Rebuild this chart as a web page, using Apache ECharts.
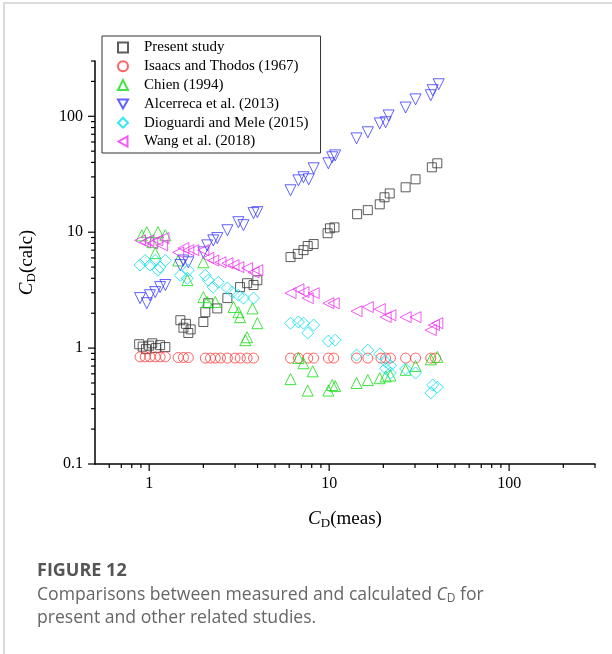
<!DOCTYPE html>
<html>
<head>
<meta charset="utf-8">
<script src="https://cdn.jsdelivr.net/npm/echarts@6/dist/echarts.min.js"></script>
<style>
html, body { margin: 0; padding: 0; background: #fff; }
#main { width: 612px; height: 654px; }
</style>
</head>
<body>
<div id="main"></div>
<script>
// series data, [CD(meas), CD(calc)]
var presentStudy = [
	[0.88, 1.08], [0.96, 0.98], [1.04, 1.1], [1.09, 1.0], [1.15, 1.06], [1.23, 1.02], [0.92, 1.03], [1.0, 1.05],
	[1.49, 1.74], [1.6, 1.62], [1.7, 1.45], [1.65, 1.35], [1.55, 1.5],
	[2.0, 1.68], [2.05, 2.04], [2.13, 2.44], [2.39, 2.2], [2.72, 2.7], [3.2, 3.36], [3.5, 3.63], [3.8, 3.5], [3.99, 3.85],
	[6.1, 6.1], [6.7, 6.5], [7.2, 7.0], [7.6, 7.6], [8.2, 7.9], [9.8, 9.8], [10.1, 10.8], [10.7, 11.0],
	[14.3, 14.3], [16.4, 15.5], [19.1, 17.4], [20.3, 20.0], [21.7, 21.6], [26.6, 24.4], [30.2, 28.6], [37.2, 36.3], [39.9, 39.3]
];
var isaacsThodos = [
	[0.89, 0.84], [0.95, 0.84], [1.01, 0.84], [1.08, 0.84], [1.15, 0.84], [1.23, 0.84],
	[1.45, 0.83], [1.55, 0.83], [1.65, 0.83],
	[2.05, 0.82], [2.19, 0.82], [2.33, 0.82], [2.49, 0.82], [2.72, 0.82], [3.0, 0.82], [3.21, 0.82], [3.5, 0.82], [3.8, 0.82],
	[6.1, 0.82], [6.75, 0.82], [7.6, 0.82], [8.2, 0.82], [9.9, 0.82], [10.6, 0.82],
	[14.2, 0.82], [16.4, 0.82], [19.4, 0.82], [20.6, 0.82], [21.9, 0.82], [26.6, 0.82], [30.2, 0.82], [36.7, 0.82], [39.0, 0.82]
];
var chien = [
	[0.91, 9.4], [0.97, 10.0], [1.12, 10.0], [1.04, 8.2], [1.08, 6.6], [1.23, 9.4],
	[1.45, 5.7], [1.63, 3.86], [2.0, 5.5],
	[2.0, 2.75], [2.1, 2.5], [2.33, 2.5], [2.94, 2.26], [3.13, 2.04], [3.2, 1.85], [3.75, 2.2], [3.99, 1.64], [3.42, 1.17], [3.5, 1.24],
	[6.1, 0.54], [7.6, 0.43], [6.75, 0.82], [7.2, 0.74], [8.1, 0.63], [9.9, 0.43], [10.4, 0.48], [10.8, 0.47],
	[14.2, 0.5], [16.4, 0.53], [19.1, 0.55], [20.6, 0.57], [21.9, 0.58], [26.6, 0.65], [30.2, 0.7], [36.7, 0.8], [39.9, 0.84]
];
var alcerreca = [
	[0.89, 2.7], [0.97, 2.44], [1.01, 2.86], [1.08, 3.04], [1.15, 3.36], [1.23, 3.5],
	[1.49, 5.2], [1.55, 5.7], [1.65, 5.5], [2.0, 6.7], [2.1, 7.7], [2.27, 8.5], [2.39, 8.9],
	[2.72, 10.4], [3.13, 12.2], [3.34, 11.5], [3.8, 14.6], [3.99, 14.9],
	[6.1, 23.0], [6.75, 28.0], [7.2, 29.8], [7.7, 28.6], [8.2, 35.6], [9.9, 39.3], [10.4, 44.3], [10.8, 46.0],
	[14.2, 64.5], [16.4, 72.8], [19.1, 86.8], [20.6, 88.9], [21.4, 101.7], [26.6, 119], [30.2, 140], [36.7, 152], [37.6, 168], [40.6, 189]
];
var dioguardiMele = [
	[0.89, 5.2], [0.95, 5.7], [1.01, 5.2], [1.08, 5.7], [1.15, 5.0], [1.23, 5.7], [1.12, 4.7],
	[1.49, 4.25], [1.63, 4.0], [1.65, 4.7],
	[2.05, 4.25], [2.13, 3.86], [2.27, 3.36], [2.42, 3.7], [2.72, 3.3], [2.9, 3.04], [3.13, 2.86], [3.34, 2.7], [3.8, 2.7],
	[6.1, 1.64], [6.75, 1.68], [7.2, 1.64], [8.2, 1.58], [7.6, 1.35], [9.9, 1.15], [10.8, 1.17],
	[14.2, 0.87], [16.4, 0.96], [19.1, 0.89], [20.6, 0.76], [21.9, 0.71], [20.6, 0.67], [21.9, 0.61],
	[26.6, 0.66], [30.2, 0.61], [36.7, 0.41], [39.9, 0.46], [37.6, 0.48]
];
var wang = [
	[0.89, 8.5], [0.95, 8.2], [0.99, 8.5], [1.04, 8.0], [1.11, 8.5], [1.2, 8.9], [1.18, 7.7],
	[1.45, 6.7], [1.55, 7.3], [1.65, 7.0], [1.76, 7.0],
	[2.0, 7.0], [2.13, 6.0], [2.27, 5.7], [2.49, 5.5], [2.72, 5.4], [2.94, 5.2], [3.13, 5.0], [3.5, 4.9], [3.8, 4.5], [3.99, 4.7],
	[6.1, 2.98], [6.75, 3.22], [7.2, 3.04], [7.6, 2.7], [8.2, 2.98], [9.9, 2.44], [10.6, 2.44],
	[14.2, 2.08], [16.4, 2.26], [19.1, 2.17], [20.6, 1.85], [21.9, 1.92], [26.6, 1.85], [30.2, 1.85], [36.7, 1.43], [38.2, 1.58], [39.9, 1.64]
];

var seriesNames = ['Present study', 'Isaacs and Thodos (1967)', 'Chien (1994)', 'Alcerreca et al. (2013)', 'Dioguardi and Mele (2015)', 'Wang et al. (2018)'];

// axis ranges and tick values
var xRange = [0.5, 300];
var yRange = [0.1, 300];
var xMajorTicks = [1, 10, 100];
var xMinorTicks = [0.6, 0.7, 0.8, 0.9, 2, 3, 4, 5, 6, 7, 8, 9, 20, 30, 40, 50, 60, 70, 80, 90, 200, 300];
var yMajorTicks = [0.1, 1, 10, 100];
var yMinorTicks = [0.2, 0.3, 0.4, 0.5, 0.6, 0.7, 0.8, 0.9, 2, 3, 4, 5, 6, 7, 8, 9, 20, 30, 40, 50, 60, 70, 80, 90, 200, 300];

var serif = '"Liberation Serif", "Times New Roman", serif';
var downTriangle = 'path://M0,0L10,0L5,9Z';
var leftTriangle = 'path://M9,0L9,10L0,5Z';

function scatter(name, data, symbol, color, size) {
	return {
		name: name,
		type: 'scatter',
		data: data,
		symbol: symbol,
		symbolSize: size,
		itemStyle: {
			color: 'rgba(0,0,0,0)',
			borderColor: color,
			borderWidth: 1
		}
	};
}

// ticks drawn through the axis scales
function tickSeries(values, onX, len) {
	return {
		type: 'custom',
		silent: true,
		clip: false,
		data: values.map(function(v) {
			return onX ? [v, yRange[0]] : [xRange[0], v];
		}),
		renderItem: function(params, api) {
			var p = api.coord([api.value(0), api.value(1)]);
			return {
				type: 'line',
				shape: onX ? { x1: p[0], y1: p[1], x2: p[0], y2: p[1] + len } : { x1: p[0], y1: p[1], x2: p[0] - len, y2: p[1] },
				style: { stroke: '#000', lineWidth: 1.2 }
			};
		}
	};
}

var option = {
	animation: false,
	grid: { left: 95, right: 17, top: 61, bottom: 190 },
	legend: {
		data: seriesNames,
		orient: 'vertical',
		left: 102,
		top: 36,
		itemWidth: 10,
		itemHeight: 10,
		itemGap: 3.8,
		padding: [4, 12, 4, 15],
		borderColor: '#333',
		borderWidth: 1,
		textStyle: {
			fontFamily: serif,
			fontSize: 15,
			color: '#000',
			padding: [0, 0, 0, 11]
		}
	},
	xAxis: {
		type: 'log',
		min: xRange[0],
		max: xRange[1],
		splitLine: { show: false },
		axisTick: { show: false },
		axisLine: { lineStyle: { color: '#000', width: 1.5 } },
		axisLabel: {
			showMinLabel: false,
			showMaxLabel: false,
			margin: 12,
			fontFamily: serif,
			fontSize: 16,
			color: '#000'
		},
		name: '{i|C}{s|D}{n|(meas)}',
		nameLocation: 'middle',
		nameGap: 44,
		nameTextStyle: {
			rich: {
				i: { fontFamily: serif, fontSize: 19, fontStyle: 'italic', color: '#000' },
				s: { fontFamily: serif, fontSize: 13, color: '#000', padding: [9, 0, 0, 0] },
				n: { fontFamily: serif, fontSize: 19, color: '#000' }
			}
		}
	},
	yAxis: {
		type: 'log',
		min: yRange[0],
		max: yRange[1],
		splitLine: { show: false },
		axisTick: { show: false },
		axisLine: { lineStyle: { color: '#000', width: 1.5 } },
		axisLabel: {
			showMaxLabel: false,
			margin: 12,
			fontFamily: serif,
			fontSize: 16,
			color: '#000'
		},
		name: '{i|C}{s|D}{n|(calc)}',
		nameLocation: 'middle',
		nameRotate: 90,
		nameGap: 57,
		nameTextStyle: {
			rich: {
				i: { fontFamily: serif, fontSize: 19, fontStyle: 'italic', color: '#000' },
				s: { fontFamily: serif, fontSize: 13, color: '#000', padding: [9, 0, 0, 0] },
				n: { fontFamily: serif, fontSize: 19, color: '#000' }
			}
		}
	},
	graphic: [{
		type: 'polyline',
		shape: { points: [[4, 654], [4, 3], [612, 3]] },
		style: { stroke: '#d0d0d0', lineWidth: 1.5, fill: null }
	}, {
		type: 'text',
		left: 37,
		top: 562,
		style: { text: 'FIGURE 12', font: 'bold 18px "Open Sans", sans-serif', fill: '#555' }
	}, {
		type: 'text',
		left: 37,
		top: 583,
		style: {
			text: '{n|Comparisons between measured and calculated }{i|C}{s|D}{n| for}\n{n|present and other related studies.}',
			lineHeight: 23,
			rich: {
				n: { font: '17.6px "Open Sans", sans-serif', fill: '#666', lineHeight: 23 },
				i: { font: 'italic 17.6px "Open Sans", sans-serif', fill: '#666', lineHeight: 23 },
				s: { font: '12px "Open Sans", sans-serif', fill: '#666', padding: [8, 0, 0, 0], lineHeight: 23 }
			}
		}
	}],
	series: [
		scatter(seriesNames[0], presentStudy, 'rect', '#333333', 9),
		scatter(seriesNames[1], isaacsThodos, 'circle', '#ff3b3b', 10),
		scatter(seriesNames[2], chien, 'triangle', '#11dd11', 11),
		scatter(seriesNames[3], alcerreca, downTriangle, '#3a3aff', 11),
		scatter(seriesNames[4], dioguardiMele, 'diamond', '#00e0f0', 12),
		scatter(seriesNames[5], wang, leftTriangle, '#f030f0', 11),
		tickSeries(xMajorTicks, true, 7),
		tickSeries(xMinorTicks, true, 4),
		tickSeries(yMajorTicks, false, 7),
		tickSeries(yMinorTicks, false, 4)
	]
};

var my = echarts.init(document.getElementById('main'));
my.setOption(option);
</script>
</body>
</html>
